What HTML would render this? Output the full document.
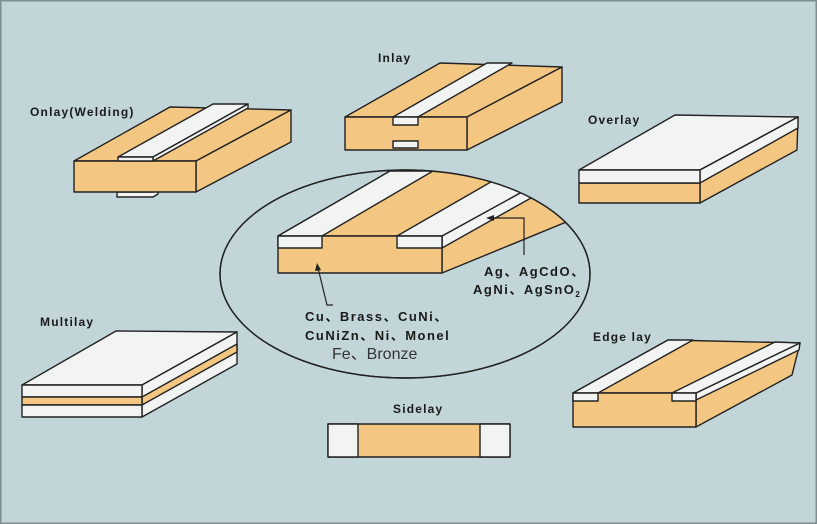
<!DOCTYPE html>
<html><head><meta charset="utf-8"><style>
html,body{margin:0;padding:0;background:#c2d6da;}
svg{display:block;}
text{font-family:"Liberation Sans","Noto Sans CJK SC",sans-serif;fill:#1a1a1a;}
.l{font-size:12px;font-weight:bold;letter-spacing:1.2px;}
.m{font-size:13px;font-weight:bold;letter-spacing:1.5px;}
</style></head><body>
<svg width="817" height="524" viewBox="0 0 817 524" xmlns="http://www.w3.org/2000/svg">
<defs><clipPath id="ec"><ellipse cx="405" cy="274" rx="185" ry="104"/></clipPath></defs>
<rect x="0" y="0" width="817" height="524" fill="#c2d6da"/>
<rect x="0.75" y="0.75" width="815.5" height="522.5" fill="none" stroke="#7e8f93" stroke-width="1.5"/>
<g stroke="#222" stroke-width="1.4" stroke-linejoin="round">

<!-- Onlay -->
<polygon points="117,192 153,192 158,189 158,194 153,197 117,197" fill="#f2f3f3"/>
<polygon points="74,161 170,107 291,110 196,161" fill="#f3c682"/>
<polygon points="196,161 291,110 291,142 196,192" fill="#f3c682"/>
<rect x="74" y="161" width="122" height="31" fill="#f3c682"/>
<polygon points="118,157 213,104 248,104 153,157" fill="#f2f3f3"/>
<polygon points="153,157 248,104 248,108 153,161" fill="#f2f3f3"/>
<rect x="118" y="157" width="35" height="4" fill="#f2f3f3"/>

<!-- Inlay -->
<polygon points="345,117 440,63 562,67 467,117" fill="#f3c682"/>
<polygon points="467,117 562,67 562,102 467,150" fill="#f3c682"/>
<rect x="345" y="117" width="122" height="33" fill="#f3c682"/>
<polygon points="393,117 487,63 512,63 418,117" fill="#f2f3f3"/>
<rect x="393" y="117" width="25" height="8" fill="#f2f3f3"/>
<rect x="393" y="141" width="25" height="7" fill="#f2f3f3"/>

<!-- Overlay -->
<polygon points="579,170 675,115 798,117 700,170" fill="#f2f3f3"/>
<polygon points="700,170 798,117 797,150 700,203" fill="#f3c682"/>
<polygon points="700,170 798,117 798,128 700,183" fill="#f2f3f3"/>
<rect x="579" y="183" width="121" height="20" fill="#f3c682"/>
<rect x="579" y="170" width="121" height="13" fill="#f2f3f3"/>

<!-- Multilay -->
<polygon points="22,385 116,331 237,332 142,385" fill="#f2f3f3"/>
<polygon points="142,385 237,332 237,364 142,417" fill="#f2f3f3"/>
<polygon points="142,397 237,344 237,352 142,405" fill="#f3c682"/>
<rect x="22" y="385" width="120" height="12" fill="#f2f3f3"/>
<rect x="22" y="397" width="120" height="8" fill="#f3c682"/>
<rect x="22" y="405" width="120" height="12" fill="#f2f3f3"/>

<!-- Edge lay -->
<polygon points="573,393 668,340 800,343 696,393" fill="#f3c682"/>
<polygon points="696,393 800,343 792,375 696,427" fill="#f3c682"/>
<polygon points="696,393 800,343 799,350 696,400" fill="#f2f3f3"/>
<rect x="573" y="393" width="123" height="34" fill="#f3c682"/>
<polygon points="573,393 668,340 693,340 598,393" fill="#f2f3f3"/>
<polygon points="672,393 775,342 800,343 696,393" fill="#f2f3f3"/>
<rect x="573" y="393" width="25" height="8" fill="#f2f3f3"/>
<rect x="672" y="393" width="24" height="8" fill="#f2f3f3"/>

<!-- Sidelay -->
<rect x="328" y="424" width="182" height="33" fill="#f3c682"/>
<rect x="328" y="424" width="30" height="33" fill="#f2f3f3"/>
<rect x="480" y="424" width="30" height="33" fill="#f2f3f3"/>

<!-- Ellipse -->
<ellipse cx="405" cy="274" rx="185" ry="104" fill="#c2d6da"/>
<g clip-path="url(#ec)">
<polygon points="278,236 390,171 560,171 442,236" fill="#f3c682"/>
<polygon points="442,236 560,171 620,150 620,200 442,273" fill="#f3c682"/>
<polygon points="442,236 620,138 620,148 442,248" fill="#f2f3f3"/>
<rect x="278" y="236" width="164" height="37" fill="#f3c682"/>
<polygon points="278,236 390,171 433,171 322,236" fill="#f2f3f3"/>
<polygon points="397,236 510,171 620,110 620,138 442,236" fill="#f2f3f3"/>
<rect x="278" y="236" width="44" height="12" fill="#f2f3f3"/>
<rect x="397" y="236" width="45" height="12" fill="#f2f3f3"/>
</g>
<ellipse cx="405" cy="274" rx="185" ry="104" fill="none"/>
</g>

<!-- callouts -->
<g stroke="#222" stroke-width="1.2" fill="none">
<polyline points="524,255 524,218 492,218"/>
<polyline points="318,268 327,305 333,305"/>
</g>
<polygon points="486,218 494,215 494,221" fill="#222"/>
<polygon points="317,263 315,271 321,270" fill="#222"/>

<text class="l" x="378" y="62">Inlay</text>
<text class="l" x="30" y="116">Onlay(Welding)</text>
<text class="l" x="588" y="124">Overlay</text>
<text class="l" x="40" y="326">Multilay</text>
<text class="l" x="593" y="341">Edge lay</text>
<text class="l" x="393" y="413">Sidelay</text>

<text class="m" x="484" y="276">Ag、AgCdO、</text>
<text class="m" x="473" y="294">AgNi、AgSnO<tspan font-size="8" dy="3">2</tspan></text>
<text class="m" x="305" y="321">Cu、Brass、CuNi、</text>
<text class="m" x="305" y="340">CuNiZn、Ni、Monel</text>
<text x="332" y="359" style="font-size:16px;fill:#333;">Fe、Bronze</text>
</svg>
</body></html>
